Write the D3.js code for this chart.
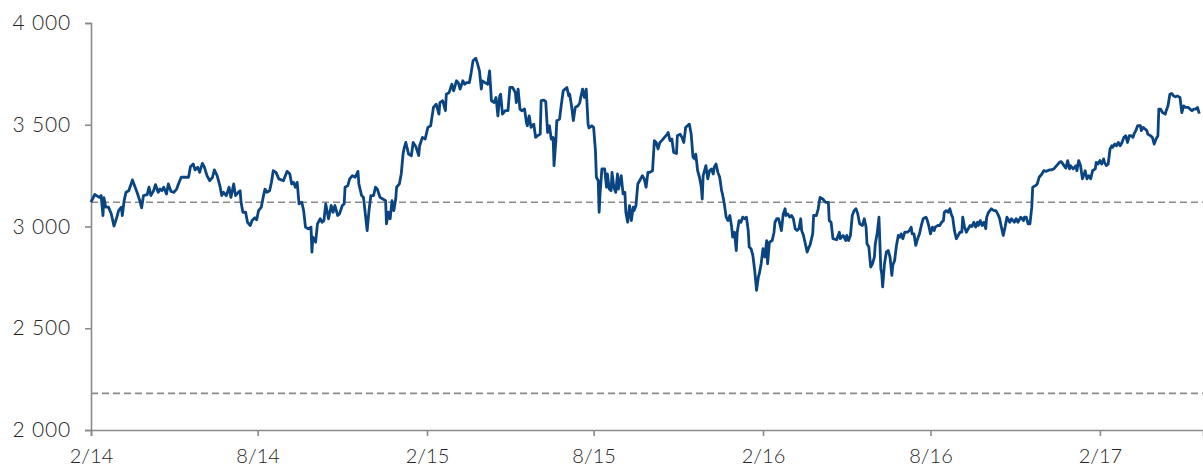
<!DOCTYPE html>
<html>
<head>
<meta charset="utf-8">
<script src="https://cdn.jsdelivr.net/npm/d3@7"></script>
<style>
  html, body { margin: 0; padding: 0; background: #fff; }
  svg { display: block; }
  .tick text { font-family: Lato, "Open Sans", sans-serif; font-weight: 300; font-size: 20px; fill: #262626; }
  .yax .tick text { font-size: 21px; word-spacing: 0px; letter-spacing: 0.8px; }
</style>
</head>
<body>
<svg id="chart" width="1203" height="468"></svg>
<script>
// ---- data ----
const startDate = "2014-02-01";
const endDate = "2017-05-24";
// [days since startDate, index level]
const series = [
[0,3120],[4,3157],[9,3143],[11,3152],[13,3054],[14,3142],[16,3095],[19,3095],[22,3063],[25,3002],[28,3045],[30,3078],[33,3095],[34,3054],[36,3127],[38,3168],[41,3176],[43,3201],[45,3229],[48,3193],[50,3168],[53,3127],[55,3092],[57,3152],[61,3157],[63,3193],[65,3152],[68,3176],[70,3206],[73,3168],[75,3184],[77,3176],[79,3193],[82,3160],[84,3209],[87,3172],[90,3168],[93,3184],[95,3209],[98,3242],[103,3242],[106,3242],[108,3294],[111,3307],[113,3278],[116,3291],[118,3266],[121,3310],[123,3294],[126,3250],[129,3225],[132,3242],[134,3278],[137,3250],[140,3201],[142,3152],[144,3168],[147,3152],[150,3193],[152,3143],[155,3209],[157,3152],[160,3168],[162,3176],[163,3119],[165,3070],[168,3070],[170,3021],[173,3005],[175,3029],[178,3043],[180,3033],[182,3078],[185,3095],[187,3143],[189,3184],[191,3168],[194,3176],[196,3217],[198,3274],
[201,3266],[204,3234],[209,3225],[213,3271],[216,3258],[218,3209],[220,3217],[222,3193],[224,3217],[226,3111],[229,3119],[231,3078],[233,2997],[236,2988],[239,2997],[240,2874],[241,2948],[244,2923],[246,3013],[249,3038],[251,3021],[253,3029],[255,3111],[258,3038],[261,3103],[263,3070],[265,3103],[268,3054],[270,3062],[273,3103],[275,3111],[276,3193],[279,3201],[281,3234],[284,3250],[287,3242],[290,3271],[291,3209],[294,3152],[296,3143],[298,3062],[300,2980],[302,3078],[304,3152],[307,3152],[309,3193],[311,3184],[314,3143],[317,3135],[320,3127],[321,3013],[323,3070],[325,3038],[327,3127],[329,3078],[331,3135],[332,3193],[335,3209],[337,3258],[339,3356],[340,3381],[342,3413],[345,3356],[348,3348],[350,3413],[353,3392],[356,3348],[357,3397],[360,3438],[363,3430],[366,3487],[369,3495],[372,3585],[375,3601],[378,3552],[379,3609],[382,3618],[385,3569],[386,3650],[389,3658],
[392,3699],[394,3667],[397,3716],[399,3707],[401,3675],[404,3716],[406,3699],[408,3707],[411,3707],[413,3756],[415,3814],[418,3827],[420,3798],[422,3765],[424,3675],[425,3716],[428,3707],[431,3699],[433,3765],[435,3618],[438,3609],[440,3634],[442,3544],[444,3642],[445,3650],[447,3552],[450,3569],[453,3569],[455,3683],[458,3683],[461,3658],[462,3609],[464,3675],[466,3577],[468,3569],[471,3577],[473,3511],[474,3495],[476,3544],[478,3487],[481,3503],[483,3438],[485,3446],[488,3454],[489,3618],[492,3621],[494,3614],[496,3462],[498,3495],[500,3430],[502,3438],[503,3299],[505,3422],[506,3520],[509,3528],[511,3601],[513,3667],[515,3675],[517,3683],[519,3642],[520,3650],[522,3593],[524,3520],[526,3585],[529,3593],[531,3609],[532,3634],[534,3675],[536,3634],[538,3675],[540,3503],[541,3484],[544,3495],[546,3487],[548,3373],[549,3242],[551,3225],[552,3070],[553,3160],[555,3283],[558,3283],[560,3193],[561,3258],[563,3184],[565,3176],[566,3266],[568,3193],[570,3168],[572,3258],[573,3184],[576,3250],[578,3160],[580,3168],[581,3070],[583,3021],[585,3103],[587,3029],[589,3095],[590,3078],[592,3103],[594,3209],[596,3225],
[599,3250],[601,3234],[603,3193],[605,3266],[607,3266],[610,3274],[612,3422],[614,3413],[616,3381],[618,3413],[620,3422],[623,3438],[626,3454],[627,3462],[629,3422],[631,3430],[633,3364],[636,3359],[637,3446],[640,3454],[642,3438],[644,3413],[646,3487],[648,3495],[650,3503],[652,3454],[654,3340],[656,3332],[657,3356],[659,3274],[661,3242],[663,3193],[664,3135],[665,3250],[668,3299],[670,3234],[672,3274],[674,3283],[676,3258],[677,3291],[679,3307],[681,3266],[683,3242],[685,3176],[686,3160],[688,3111],[690,3046],[692,3029],[694,3054],[696,2997],[697,2948],[699,2972],[701,2882],[702,2972],[704,3029],[706,3021],[708,3046],[710,3038],[712,3046],[714,2980],[715,2899],[717,2891],[719,2858],[721,2784],[722,2735],[723,2686],[725,2752],[726,2768],[728,2817],[730,2891],[732,2850],[734,2931],[735,2817],[737,2923],[740,2931],[742,2972],[743,3021],[745,3038],[747,3038],[750,2980],[752,3062],[754,3087],[755,3054],[757,3062],[759,3046],[761,3054],[763,3038],[765,2989],[767,2980],[769,2989],[771,3038],[772,2980],[774,2956],[776,2915],[778,2874],[780,2899],[781,2907],[784,2964],[785,3054],[788,3054],
[790,3087],[792,3143],[795,3135],[798,3119],[801,3119],[802,3029],[804,3021],[806,2940],[810,2935],[813,2972],[814,2940],[817,2956],[820,2931],[821,2956],[823,2931],[825,2956],[827,3054],[829,3078],[831,3087],[833,3062],[835,3013],[838,3005],[840,3038],[842,2997],[843,2915],[845,2899],[847,2801],[849,2817],[851,2850],[852,2915],[854,2964],[856,3046],[858,2793],[859,2768],[860,2703],[862,2817],[864,2874],[866,2882],[868,2850],[870,2760],[871,2809],[873,2833],[875,2907],[877,2956],[879,2948],[880,2964],[882,2940],[884,2972],[887,2972],[889,2980],[891,2997],[892,2964],[894,2964],[896,2907],[898,2940],[900,2964],[902,3005],[904,3038],[907,3046],[908,3038],[910,3005],[912,2964],[914,2997],[916,2980],[917,2997],[920,3005],[922,3005],[924,3021],[926,3029],[927,3070],[929,3078],[931,3070],[933,3087],[935,3054],[936,3046],[938,2980],[940,2940],[942,2956],[944,2972],[946,2972],[947,3046],[949,2997],[951,2972],[953,2989],[955,3005],[957,3000],[959,3021],[961,2997],[963,3021],[964,3005],[966,3029],[968,3005],[970,3021],[972,2989],[973,3046],[975,3070],[978,3087],[981,3078],[983,3078],[985,3062],[987,3040],
[989,2997],[991,2956],[993,2997],[995,3046],[996,3038],[998,3021],[1000,3038],[1003,3021],[1005,3038],[1007,3021],[1010,3046],[1013,3029],[1014,3046],[1016,3046],[1018,3013],[1020,3013],[1022,3095],[1023,3193],[1026,3201],[1028,3209],[1030,3242],[1033,3258],[1035,3274],[1038,3271],[1041,3278],[1043,3278],[1046,3283],[1049,3299],[1052,3315],[1054,3319],[1057,3299],[1059,3287],[1061,3324],[1063,3283],[1064,3299],[1067,3283],[1070,3299],[1071,3274],[1073,3324],[1075,3299],[1077,3234],[1079,3258],[1080,3274],[1082,3234],[1084,3250],[1086,3234],[1088,3274],[1091,3283],[1092,3315],[1094,3307],[1096,3324],[1098,3307],[1100,3332],[1101,3315],[1103,3299],[1105,3307],[1107,3381],[1109,3397],[1110,3389],[1112,3405],[1114,3397],[1116,3413],[1118,3397],[1120,3413],[1122,3438],[1124,3446],[1126,3413],[1128,3446],[1130,3446],[1132,3438],[1133,3454],[1135,3471],[1137,3495],[1140,3495],[1141,3471],[1143,3487],[1145,3479],[1147,3471],[1148,3454],[1151,3446],[1153,3438],[1155,3405],[1157,3430],[1159,3446],[1160,3577],[1162,3577],[1164,3560],[1167,3552],[1168,3569],[1170,3593],[1172,3650],[1174,3654],[1176,3642],[1178,3637],[1180,3642],[1183,3634],[1185,3560],[1187,3593],[1189,3585],[1192,3585],[1194,3577],[1196,3569],[1198,3577],[1200,3577],[1202,3585],[1204,3555]
];
const referenceLevels = [3119, 2180];
const yTicks = [2000, 2500, 3000, 3500, 4000];
const xTickDates = ["2014-02-01","2014-08-01","2015-02-01","2015-08-01","2016-02-01","2016-08-01","2017-02-01"];
const xTickLabels = ["2/14","8/14","2/15","8/15","2/16","8/16","2/17"];

// ---- chart ----
const parse = d3.utcParse("%Y-%m-%d");
const t0 = parse(startDate);
const data = series.map(([d, v]) => ({ date: d3.utcDay.offset(t0, d), value: v }));

const svg = d3.select("#chart");
const margin = { left: 91, right: 0, top: 23, bottom: 38 };
const W = 1203, H = 468;

const x = d3.scaleUtc().domain([t0, parse(endDate)]).range([margin.left, W - margin.right]);
const y = d3.scaleLinear().domain([2000, 4000]).range([H - margin.bottom, margin.top]);

const fmt = d3.formatLocale({ decimal: ",", thousands: " ", grouping: [3], currency: ["", ""] }).format(",d");

// reference dashed lines
svg.append("g").selectAll("line").data(referenceLevels).join("line")
  .attr("x1", x.range()[0]).attr("x2", x.range()[1])
  .attr("y1", d => y(d)).attr("y2", d => y(d))
  .attr("stroke", "#8a8a8a").attr("stroke-width", 1.6)
  .attr("stroke-dasharray", "7,4");

// y axis
const yAxis = svg.append("g").attr("class", "yax").attr("transform", `translate(${margin.left},0)`)
  .call(d3.axisLeft(y).tickValues(yTicks).tickFormat(fmt).tickSize(6).tickPadding(14));
// x axis
const xAxis = svg.append("g").attr("class", "xax").attr("transform", `translate(0,${H - margin.bottom})`)
  .call(d3.axisBottom(x).tickValues(xTickDates.map(parse))
    .tickFormat((d, i) => xTickLabels[i]).tickSize(6).tickPadding(8));

[yAxis, xAxis].forEach(g => {
  g.select(".domain").attr("stroke", "#8a8a8a").attr("stroke-width", 1.6);
  g.selectAll(".tick line").attr("stroke", "#8a8a8a").attr("stroke-width", 1.6);
});
xAxis.selectAll(".tick text").attr("dy", "0.95em");

// main line
const line = d3.line().x(d => x(d.date)).y(d => y(d.value));
svg.append("path").datum(data)
  .attr("fill", "none")
  .attr("stroke", "#0a4582")
  .attr("stroke-width", 2.8)
  .attr("stroke-linejoin", "round")
  .attr("d", line);
</script>
</body>
</html>
